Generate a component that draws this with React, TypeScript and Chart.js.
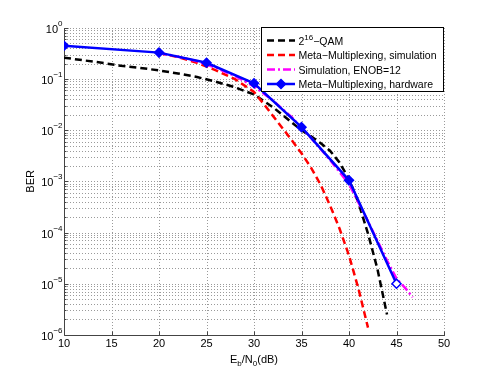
import React, { useEffect, useRef } from 'react';
import { Chart, registerables } from 'chart.js';

Chart.register(...registerables);

// ---- Data ----
const qamEbN0 = [10, 12, 14, 16, 18, 20, 22, 24, 26, 28, 30, 32, 34, 35, 36, 37, 38, 39, 40, 41, 42, 43, 44];
const qamBER = [0.263, 0.234, 0.209, 0.182, 0.166, 0.148, 0.129, 0.11, 0.0891, 0.0692, 0.0501, 0.0282, 0.0141, 0.01, 0.00759, 0.00562, 0.00398, 0.00234, 0.00112, 0.00038, 0.0000955, 0.0000191, 0.0000025];

const simEbN0 = [20, 22, 24, 26, 28, 30, 31, 32, 33, 34, 35, 36, 37, 38, 39, 40, 41, 42];
const simBER = [0.324, 0.269, 0.209, 0.148, 0.1, 0.0562, 0.0331, 0.0191, 0.011, 0.0063, 0.00355, 0.00186, 0.00087, 0.00034, 0.00012, 0.0000355, 0.0000079, 0.00000138];

const enobEbN0 = [20, 22, 24, 26, 28, 30, 32, 34, 36, 38, 40, 42, 44, 45, 46, 46.7];
const enobBER = [0.324, 0.275, 0.224, 0.166, 0.115, 0.0724, 0.038, 0.0178, 0.00708, 0.00263, 0.00089, 0.000166, 0.0000282, 0.0000126, 0.0000079, 0.0000054];

const hwEbN0 = [10, 20, 25, 30, 35, 40, 45];
const hwBER = [0.449, 0.33, 0.209, 0.083, 0.0115, 0.00105, 0.00001];

const xTickValues = [10, 15, 20, 25, 30, 35, 40, 45, 50];
const yDecadeValues = [1e-6, 1e-5, 1e-4, 1e-3, 1e-2, 1e-1, 1];
const yDecadeExponents = ['\u22126', '\u22125', '\u22124', '\u22123', '\u22122', '\u22121', '0'];
const yMinorMultipliers = [2, 3, 4, 5, 6, 7, 8, 9];

const seriesLabels = ['2^16\u2212QAM', 'Meta\u2212Multiplexing, simulation', 'Simulation, ENOB=12', 'Meta\u2212Multiplexing, hardware'];
const seriesColors = ['#000000', '#ff0000', '#ff00ff', '#0000ff'];
const seriesDashes: number[][] = [[7, 4], [7, 4], [8, 3, 2, 3], []];

const FONT = "'Liberation Sans', Arial, Helvetica, sans-serif";

function toPoints(xs: number[], ys: number[]) {
  return xs.map((x, i) => ({ x, y: ys[i] }));
}

const gridPlugin = {
  id: 'matlabGrid',
  beforeDatasetsDraw(chart: any) {
    const { ctx, chartArea, scales } = chart;
    const { left, right, top, bottom } = chartArea;
    const xs = scales.x;
    const ys = scales.y;
    ctx.save();
    ctx.strokeStyle = '#9a9a9a';
    ctx.lineWidth = 1;
    ctx.setLineDash([1, 2]);
    const yLines: number[] = [];
    for (let d = 0; d < yDecadeValues.length; d++) {
      const v = yDecadeValues[d];
      if (v > 1e-6) yLines.push(v);
      if (d < yDecadeValues.length - 1) {
        for (const m of yMinorMultipliers) yLines.push(v * m);
      }
    }
    for (const v of yLines) {
      const py = Math.round(ys.getPixelForValue(v)) + 0.5;
      ctx.beginPath();
      ctx.moveTo(left, py);
      ctx.lineTo(right, py);
      ctx.stroke();
    }
    for (const v of xTickValues) {
      if (v === xTickValues[0]) continue;
      const px = Math.round(xs.getPixelForValue(v)) + 0.5;
      ctx.beginPath();
      ctx.moveTo(px, top);
      ctx.lineTo(px, bottom);
      ctx.stroke();
    }
    ctx.setLineDash([]);
    ctx.strokeStyle = '#444444';
    const lx = Math.round(left) + 0.5;
    const by = Math.round(bottom) + 0.5;
    ctx.beginPath();
    ctx.moveTo(lx, Math.round(top));
    ctx.lineTo(lx, by);
    ctx.lineTo(Math.round(right) + 1, by);
    ctx.stroke();
    for (const v of xTickValues) {
      const px = Math.round(xs.getPixelForValue(v)) + 0.5;
      ctx.beginPath();
      ctx.moveTo(px, by);
      ctx.lineTo(px, by - 4);
      ctx.stroke();
    }
    for (const v of yLines.concat([1e-6])) {
      const py = Math.round(ys.getPixelForValue(v)) + 0.5;
      const isMajor = yDecadeValues.includes(v);
      ctx.beginPath();
      ctx.moveTo(lx, py);
      ctx.lineTo(lx + (isMajor ? 4 : 2), py);
      ctx.stroke();
    }
    ctx.restore();
  },
};

const textPlugin = {
  id: 'matlabText',
  afterDraw(chart: any) {
    const { ctx, chartArea, scales } = chart;
    const { left, right, top, bottom } = chartArea;
    const ys = scales.y;
    ctx.save();
    ctx.fillStyle = '#000';
    ctx.textBaseline = 'alphabetic';
    for (let i = 0; i < yDecadeValues.length; i++) {
      const py = ys.getPixelForValue(yDecadeValues[i]);
      ctx.font = `8px ${FONT}`;
      const sup = yDecadeExponents[i];
      const supW = ctx.measureText(sup).width;
      const endX = left - 1.5;
      ctx.textAlign = 'left';
      ctx.fillText(sup, endX - supW, py - 2);
      ctx.font = `11px ${FONT}`;
      ctx.textAlign = 'right';
      ctx.fillText('10', endX - supW, py + 5);
    }
    ctx.save();
    ctx.translate(34, (top + bottom) / 2);
    ctx.rotate(-Math.PI / 2);
    ctx.font = `11px ${FONT}`;
    ctx.textAlign = 'center';
    ctx.fillText('BER', 0, 0);
    ctx.restore();
    const parts: [string, number, number][] = [
      ['E', 11, 0],
      ['b', 8, 3],
      ['/N', 11, 0],
      ['0', 8, 3],
      ['(dB)', 11, 0],
    ];
    let total = 0;
    for (const [t, s] of parts) {
      ctx.font = `${s}px ${FONT}`;
      total += ctx.measureText(t).width;
    }
    let cx = (left + right) / 2 - total / 2;
    const baseY = 363;
    ctx.textAlign = 'left';
    for (const [t, s, dy] of parts) {
      ctx.font = `${s}px ${FONT}`;
      ctx.fillText(t, cx, baseY + dy);
      cx += ctx.measureText(t).width;
    }
    // legend
    const bx = 261.5;
    const byTop = 27.5;
    const bw = right - 0.5 - bx;
    const bh = 64;
    ctx.fillStyle = '#fff';
    ctx.fillRect(bx, byTop, bw, bh);
    ctx.strokeStyle = '#000';
    ctx.lineWidth = 1;
    ctx.strokeRect(bx, byTop, bw, bh);
    const rowY = [40.5, 55, 69.5, 84];
    const LF = 10.5;
    for (let i = 0; i < seriesLabels.length; i++) {
      const y = rowY[i];
      ctx.save();
      ctx.strokeStyle = seriesColors[i];
      ctx.lineWidth = 2.5;
      ctx.setLineDash(seriesDashes[i]);
      ctx.beginPath();
      ctx.moveTo(267, y);
      ctx.lineTo(295, y);
      ctx.stroke();
      ctx.restore();
      if (i === 3) {
        ctx.save();
        ctx.fillStyle = seriesColors[i];
        ctx.strokeStyle = seriesColors[i];
        ctx.lineWidth = 1.5;
        ctx.beginPath();
        ctx.moveTo(281 - 4.5, y);
        ctx.lineTo(281, y - 4.5);
        ctx.lineTo(281 + 4.5, y);
        ctx.lineTo(281, y + 4.5);
        ctx.closePath();
        ctx.fill();
        ctx.stroke();
        ctx.restore();
      }
      ctx.fillStyle = '#000';
      ctx.textAlign = 'left';
      let tx = 298.5;
      const label = seriesLabels[i];
      if (label.startsWith('2^16')) {
        ctx.font = `${LF}px ${FONT}`;
        ctx.fillText('2', tx, y + 4);
        tx += ctx.measureText('2').width;
        ctx.font = `8px ${FONT}`;
        ctx.fillText('16', tx, y - 1);
        tx += ctx.measureText('16').width;
        ctx.font = `${LF}px ${FONT}`;
        ctx.fillText(label.slice(4), tx, y + 4);
      } else {
        ctx.font = `${LF}px ${FONT}`;
        ctx.fillText(label, tx, y + 4);
      }
    }
    ctx.restore();
  },
};

export default function App() {
  const canvasRef = useRef<HTMLCanvasElement | null>(null);

  useEffect(() => {
    const canvas = canvasRef.current;
    if (!canvas) return;
    const hwPointFill = hwEbN0.map((_, i) => (i === hwEbN0.length - 1 ? '#ffffff' : seriesColors[3]));
    const chart = new Chart(canvas, {
      type: 'line',
      data: {
        datasets: [
          {
            label: seriesLabels[0],
            data: toPoints(qamEbN0, qamBER),
            borderColor: seriesColors[0],
            borderWidth: 2.5,
            borderDash: seriesDashes[0],
            pointRadius: 0,
            tension: 0,
            fill: false,
            order: 3,
          },
          {
            label: seriesLabels[1],
            data: toPoints(simEbN0, simBER),
            borderColor: seriesColors[1],
            borderWidth: 2.5,
            borderDash: seriesDashes[1],
            pointRadius: 0,
            tension: 0,
            fill: false,
            order: 2,
          },
          {
            label: seriesLabels[2],
            data: toPoints(enobEbN0, enobBER),
            borderColor: seriesColors[2],
            borderWidth: 2.5,
            borderDash: seriesDashes[2],
            pointRadius: 0,
            tension: 0,
            fill: false,
            order: 1,
          },
          {
            label: seriesLabels[3],
            data: toPoints(hwEbN0, hwBER),
            borderColor: seriesColors[3],
            backgroundColor: seriesColors[3],
            borderWidth: 2.5,
            pointStyle: 'rectRot',
            pointRadius: 4.5,
            pointBorderWidth: 1.5,
            pointBackgroundColor: hwPointFill,
            pointBorderColor: seriesColors[3],
            tension: 0,
            fill: false,
            order: 0,
          },
        ],
      },
      options: {
        responsive: false,
        animation: false,
        events: [],
        layout: { padding: { left: 64, right: 47, top: 28, bottom: 27 } },
        plugins: {
          legend: { display: false },
          tooltip: { enabled: false },
          title: { display: false },
        },
        scales: {
          x: {
            type: 'linear',
            min: 10,
            max: 50,
            afterBuildTicks: (scale: any) => {
              scale.ticks = xTickValues.map((v) => ({ value: v }));
            },
            ticks: {
              color: '#000',
              font: { family: FONT, size: 11 },
              padding: 3,
              maxRotation: 0,
              autoSkip: false,
            },
            grid: { display: false, drawTicks: false },
            border: { display: false },
          },
          y: {
            type: 'logarithmic',
            min: 1e-6,
            max: 1,
            ticks: { display: false },
            grid: { display: false, drawTicks: false },
            border: { display: false },
            afterFit: (scale: any) => {
              scale.width = 0;
            },
          },
        },
      },
      plugins: [gridPlugin, textPlugin],
    });
    return () => chart.destroy();
  }, []);

  return (
    <div style={{ position: 'absolute', left: 0, top: 0, width: 491, height: 381, background: '#fff' }}>
      <canvas ref={canvasRef} width={491} height={381} />
    </div>
  );
}
